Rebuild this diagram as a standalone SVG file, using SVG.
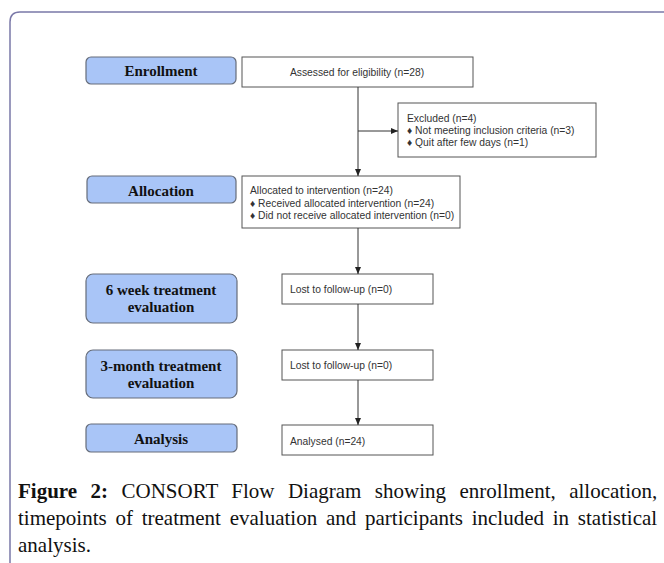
<svg xmlns="http://www.w3.org/2000/svg" width="664" height="563" viewBox="0 0 664 563">
<style>
.stage{fill:#a9c5f7;stroke:#666d7a;stroke-width:1.2}
.box{fill:#fff;stroke:#555;stroke-width:1}
.lbl{font-family:"Liberation Serif","Times New Roman",serif;font-weight:bold;font-size:15px;fill:#111;text-anchor:middle}
.txt{font-family:"Liberation Sans",Arial,sans-serif;font-size:10.3px;fill:#333}
.cap{font-family:"Liberation Serif","Times New Roman",serif;font-size:21px;fill:#111}
.ln{stroke:#333;stroke-width:1;fill:none}
</style>
<defs>
<marker id="ah" markerWidth="8" markerHeight="8" refX="7" refY="4" orient="auto" markerUnits="userSpaceOnUse">
<path d="M0,1 L7,4 L0,7 Z" fill="#222"/>
</marker>
</defs>
<rect width="664" height="563" fill="#fff"/>
<path d="M10,620 L10,22 Q10,12 20,12 L700,12" fill="none" stroke="#7a78a8" stroke-width="1.5"/>

<g id="enrollment"><rect class="stage" x="86" y="57" width="150" height="27" rx="5"/><text class="lbl" x="161" y="76">Enrollment</text></g>
<g id="assessed"><rect class="box" x="242" y="57" width="231" height="30"/><text class="txt" x="357" y="76" text-anchor="middle">Assessed for eligibility (n=28)</text></g>
<g id="excluded"><rect class="box" x="398" y="103" width="198" height="54"/>
<text class="txt" x="407" y="122">Excluded (n=4)</text>
<text class="txt" x="407" y="134">♦ Not meeting inclusion criteria (n=3)</text>
<text class="txt" x="407" y="146">♦ Quit after few days (n=1)</text></g>

<g id="allocation"><rect class="stage" x="87" y="176" width="149" height="27" rx="5"/><text class="lbl" x="161" y="196">Allocation</text></g>
<g id="allocated"><rect class="box" x="242" y="176" width="218" height="52"/>
<text class="txt" x="250" y="194">Allocated to intervention (n=24)</text>
<text class="txt" x="250" y="207">♦ Received allocated intervention (n=24)</text>
<text class="txt" x="250" y="219">♦ Did not receive allocated intervention (n=0)</text></g>

<g id="week6"><rect class="stage" x="86" y="274" width="151" height="49" rx="7"/><text class="lbl" x="161" y="295">6 week treatment</text><text class="lbl" x="161" y="312">evaluation</text></g>
<g id="lost1"><rect class="box" x="282" y="274" width="151" height="30"/><text class="txt" x="290" y="293">Lost to follow-up (n=0)</text></g>

<g id="month3"><rect class="stage" x="86" y="350" width="151" height="48" rx="7"/><text class="lbl" x="161" y="371">3-month treatment</text><text class="lbl" x="161" y="388">evaluation</text></g>
<g id="lost2"><rect class="box" x="282" y="350" width="151" height="30"/><text class="txt" x="290" y="369">Lost to follow-up (n=0)</text></g>

<g id="analysis"><rect class="stage" x="86" y="424" width="151" height="28" rx="5"/><text class="lbl" x="161" y="444">Analysis</text></g>
<g id="analysed"><rect class="box" x="282" y="425" width="151" height="30"/><text class="txt" x="290" y="445">Analysed (n=24)</text></g>

<g id="connectors">
<line class="ln" x1="358" y1="87" x2="358" y2="176" marker-end="url(#ah)"/>
<line class="ln" x1="358" y1="131" x2="398" y2="131" marker-end="url(#ah)"/>
<line class="ln" x1="358" y1="228" x2="358" y2="274" marker-end="url(#ah)"/>
<line class="ln" x1="358" y1="304" x2="358" y2="350" marker-end="url(#ah)"/>
<line class="ln" x1="358" y1="380" x2="358" y2="425" marker-end="url(#ah)"/>
</g>

<g id="caption">
<text class="cap" x="18" y="498" word-spacing="8.2"><tspan font-weight="bold">Figure 2:</tspan> CONSORT Flow Diagram showing enrollment, allocation,</text>
<text class="cap" x="18" y="525" word-spacing="3.5">timepoints of treatment evaluation and participants included in statistical</text>
<text class="cap" x="18" y="552">analysis.</text>
</g>
</svg>
